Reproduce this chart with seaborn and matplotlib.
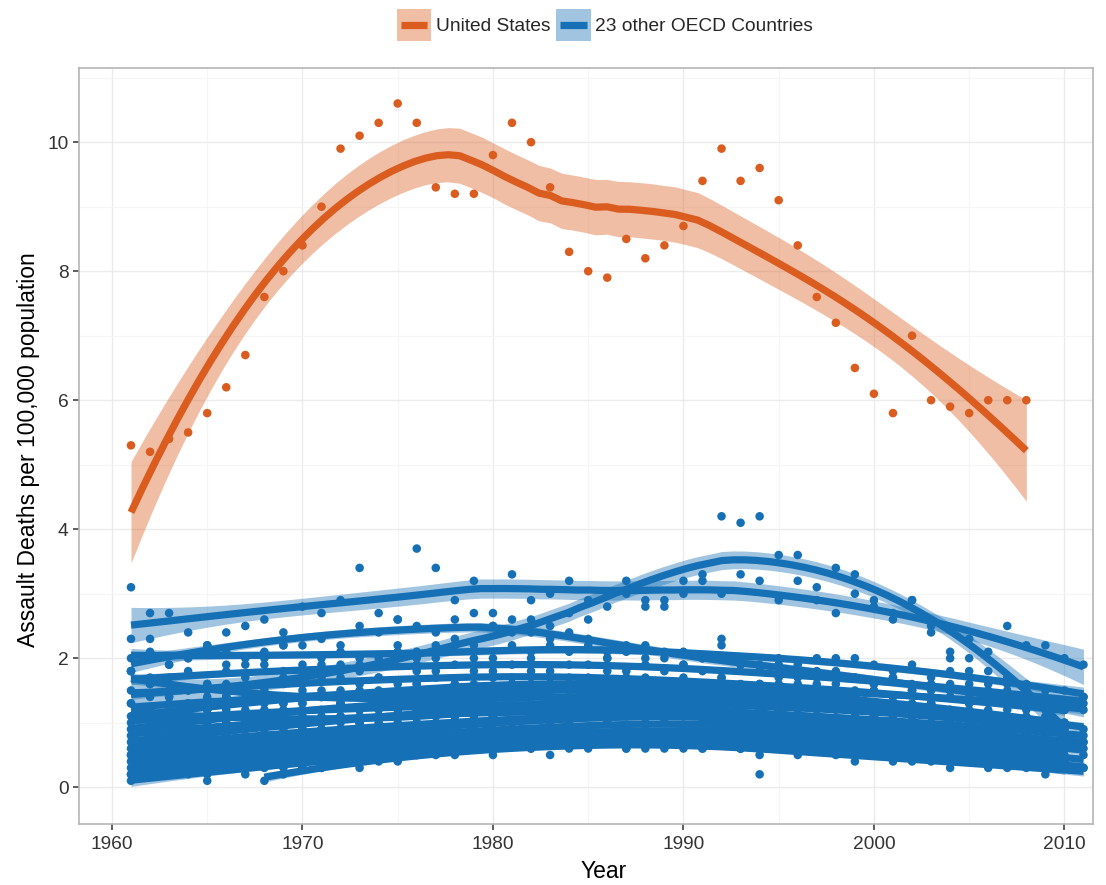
import numpy as np
import pandas as pd
import matplotlib
matplotlib.use("Agg")
import matplotlib.pyplot as plt
import seaborn as sns
from matplotlib.patches import Patch, Rectangle
from matplotlib.lines import Line2D
from matplotlib.legend_handler import HandlerBase

# ---------------- data ----------------
us_start = 1961
us_rates = [5.3, 5.2, 5.4, 5.5, 5.8, 6.2, 6.7, 7.6, 8.0, 8.4,
            9.0, 9.9, 10.1, 10.3, 10.6, 10.3, 9.3, 9.2, 9.2, 9.8,
            10.3, 10.0, 9.3, 8.3, 8.0, 7.9, 8.5, 8.2, 8.4, 8.7,
            9.4, 9.9, 9.4, 9.6, 9.1, 8.4, 7.6, 7.2, 6.5, 6.1,
            5.8, 7.0, 6.0, 5.9, 5.8, 6.0, 6.0, 6.0]

c01 = [3.1, 2.7, 2.7, 2.4, 2.2, 2.4, 2.5, 2.6, 2.4, 2.8,
       2.7, 2.9, 3.4, 2.7, 2.6, 3.7, 3.4, 2.9, 3.2, 2.7,
       3.3, 2.9, 3.0, 3.2, 2.9, 3.0, 3.2, 2.8, 2.8, 3.0,
       3.2, 3.0, 3.3, 3.2, 2.9, 3.2, 2.9, 2.7, 3.0, 2.9,
       2.6, 2.9, 2.4, 2.0, 2.3, 2.1, 2.5, 2.2, 2.2, 2.0, 1.9]
c02 = [1.8, 1.6, 1.4, 1.3, 1.5, 1.4, 1.3, 1.6, 1.6, 1.8,
       1.7, 1.9, 1.8, 2.0, 2.1, 2.0, 2.2, 2.3, 2.2, 2.5,
       2.4, 2.6, 2.5, 2.7, 2.6, 2.8, 3.0, 2.9, 2.9, 3.2,
       3.3, 4.2, 4.1, 4.2, 3.6, 3.6, 3.1, 3.4, 3.3, 2.8,
       2.7, 2.9, 2.5, 2.1, 2.0, 1.8, 1.6, 1.5, 1.4, 1.3]
c03 = [2.3, 2.1, 1.9, 2.0, 2.2, 1.9, 2.0, 2.1, 2.2, 2.2,
       2.3, 2.2, 2.5, 2.4, 2.6, 2.5, 2.4, 2.6, 2.7, 2.5,
       2.6, 2.4, 2.3, 2.4, 2.2, 2.1, 2.2, 2.0, 2.1, 1.9,
       2.0, 2.2, 1.9, 1.8, 1.9, 1.7, 1.8, 2.0, 1.7, 1.6,
       1.7, 1.6, 1.5, 1.6, 1.4, 1.5, 1.4, 1.3, 1.4, 1.2, 1.2]
c04 = [2.0, 2.3, 1.9, 2.0, 2.1, 2.1, 1.9, 2.0, 2.2, 1.9,
       2.0, 2.1, 2.0, 1.9, 2.2, 2.1, 2.0, 2.2, 2.1, 2.0,
       2.2, 2.1, 2.2, 2.1, 2.3, 2.0, 2.1, 2.2, 2.0, 2.1,
       2.0, 2.3, 2.0, 1.9, 2.0, 1.9, 2.0, 1.8, 2.0, 1.9,
       1.8, 1.9, 1.7, 1.8, 1.8, 1.6, 1.7, 1.6, 1.5, 1.5, 1.4]
c05 = [1.8, 1.6, 1.7, 1.8, 1.6, 1.8, 1.7, 1.9, 1.8, 1.7,
       1.9, 1.8, 1.9, 1.7, 2.0, 1.9, 1.8, 1.9, 2.0, 1.8,
       1.9, 2.0, 1.8, 1.9, 1.9, 2.0, 1.8, 1.9, 1.8, 1.9,
       1.8, 1.7, 1.9, 1.8, 1.7, 1.8, 1.7, 1.6, 1.7, 1.6,
       1.7, 1.5, 1.6, 1.5, 1.6, 1.4, 1.5, 1.4, 1.4, 1.3, 1.4]
c06 = [1.5, 1.4, 1.6, 1.5, 1.4, 1.6, 1.5, 1.5, 1.7, 1.6,
       1.5, 1.7, 1.6, 1.7, 1.6, 1.8, 1.7, 1.6, 1.8, 1.7,
       1.7, 1.8, 1.6, 1.7, 1.7, 1.8, 1.6, 1.7, 1.6, 1.7,
       1.6, 1.7, 1.5, 1.6, 1.6, 1.5, 1.6, 1.4, 1.5, 1.5,
       1.4, 1.5, 1.3, 1.4, 1.3, 1.4, 1.2, 1.3, 1.2, 1.2]
c07 = [1.3, 1.2, 1.4, 1.3, 1.2, 1.4, 1.3, 1.4, 1.3, 1.5,
       1.4, 1.3, 1.5, 1.4, 1.5, 1.6, 1.4, 1.5, 1.6, 1.5,
       1.4, 1.6, 1.5, 1.5, 1.4, 1.6, 1.5, 1.4, 1.5, 1.4,
       1.5, 1.4, 1.3, 1.5, 1.4, 1.3, 1.4, 1.3, 1.2, 1.3,
       1.2, 1.3, 1.2, 1.1, 1.2, 1.1, 1.0, 1.1, 1.0, 1.0, 0.9]
c08 = [1.1, 1.2, 1.3, 1.1, 1.2, 1.3, 1.2, 1.4, 1.3, 1.3,
       1.4, 1.5, 1.4, 1.5, 1.4, 1.6, 1.5, 1.6, 1.5, 1.7,
       1.6, 1.5, 1.7, 1.6, 1.5, 1.6, 1.7, 1.5, 1.6, 1.5,
       1.6, 1.4, 1.5, 1.6, 1.4, 1.5, 1.4, 1.3, 1.4, 1.3,
       1.3, 1.2, 1.3, 1.2, 1.1, 1.2, 1.1, 1.0, 1.1, 1.0]
c09 = [1.0, 1.1, 1.2, 1.0, 1.1, 1.2, 1.1, 1.0, 1.2, 1.1,
       1.2, 1.3, 1.2, 1.1, 1.3, 1.2, 1.3, 1.2, 1.4, 1.3,
       1.2, 1.3, 1.4, 1.2, 1.3, 1.2, 1.3, 1.2, 1.1, 1.3,
       1.2, 1.1, 1.2, 1.1, 1.2, 1.0, 1.1, 1.2, 1.0, 1.1,
       1.0, 1.1, 0.9, 1.0, 0.9, 1.0, 0.8, 0.9, 0.9, 0.8, 0.8]
c10 = [0.9, 1.0, 1.1, 1.0, 0.9, 1.1, 1.0, 1.2, 1.1, 1.2,
       1.1, 1.3, 1.2, 1.3, 1.2, 1.4, 1.3, 1.4, 1.3, 1.5,
       1.4, 1.3, 1.5, 1.4, 1.3, 1.4, 1.5, 1.3, 1.4, 1.3,
       1.4, 1.2, 1.3, 1.4, 1.2, 1.3, 1.2, 1.3, 1.1, 1.2,
       1.1, 1.2, 1.1, 1.0, 1.1, 1.0, 1.1, 0.9, 1.0, 0.9]
c11 = [0.8, 0.9, 1.0, 0.8, 0.9, 1.0, 0.9, 1.0, 1.1, 0.9,
       1.0, 1.1, 1.0, 1.2, 1.1, 1.0, 1.2, 1.1, 1.2, 1.1,
       1.2, 1.1, 1.3, 1.2, 1.1, 1.2, 1.1, 1.2, 1.0, 1.1,
       1.2, 1.0, 1.1, 1.0, 1.1, 1.0, 0.9, 1.0, 0.9, 1.0,
       0.9, 0.8, 0.9, 0.8, 0.9, 0.8, 0.7, 0.8, 0.8, 0.7, 0.7]
c12 = [0.7, 0.8, 0.9, 0.7, 0.8, 0.9, 0.8, 0.9, 1.0, 0.9,
       1.0, 1.1, 1.0, 1.1, 1.2, 1.1, 1.2, 1.1, 1.3, 1.2,
       1.3, 1.2, 1.4, 1.3, 1.2, 1.4, 1.3, 1.5, 1.4, 1.3,
       1.5, 1.4, 1.3, 1.5, 1.4, 1.3, 1.4, 1.3, 1.2, 1.3,
       1.2, 1.1, 1.2, 1.1, 1.0, 1.1, 1.0, 0.9, 1.0, 0.9]
c13 = [0.6, 0.7, 0.8, 0.6, 0.7, 0.8, 0.7, 0.8, 0.9, 0.8,
       0.9, 0.8, 1.0, 0.9, 1.0, 0.9, 1.1, 1.0, 0.9, 1.1,
       1.0, 1.1, 1.0, 1.2, 1.1, 1.0, 1.2, 1.1, 1.0, 1.1,
       1.2, 1.1, 1.0, 1.1, 1.0, 1.1, 1.0, 0.9, 1.0, 0.9,
       1.0, 0.9, 0.8, 0.9, 0.8, 0.9, 0.8, 0.7, 0.8, 0.7, 0.7]
c14 = [0.5, 0.6, 0.7, 0.6, 0.5, 0.7, 0.6, 0.7, 0.8, 0.7,
       0.8, 0.7, 0.9, 0.8, 0.9, 1.0, 0.9, 1.0, 0.9, 1.1,
       1.0, 1.1, 1.0, 0.9, 1.1, 1.0, 1.2, 1.1, 1.0, 1.2,
       1.1, 1.0, 1.1, 1.2, 1.0, 1.1, 1.0, 0.9, 1.0, 0.9,
       0.8, 0.9, 0.8, 0.9, 0.7, 0.8, 0.7, 0.8, 0.7, 0.6]
c15 = [0.4, 0.5, 0.6, 0.5, 0.4, 0.6, 0.5, 0.6, 0.7, 0.6,
       0.7, 0.8, 0.7, 0.8, 0.9, 0.8, 0.7, 0.9, 0.8, 0.9,
       1.0, 0.9, 0.8, 1.0, 0.9, 1.0, 0.9, 1.1, 1.0, 0.9,
       1.0, 1.1, 0.9, 1.0, 0.9, 1.0, 0.8, 0.9, 0.8, 0.9,
       0.8, 0.7, 0.8, 0.7, 0.8, 0.7, 0.6, 0.7, 0.6, 0.7, 0.6]
c16 = [0.5, 0.4, 0.5, 0.6, 0.5, 0.4, 0.6, 0.5, 0.6, 0.7,
       0.6, 0.7, 0.6, 0.8, 0.7, 0.8, 0.7, 0.9, 0.8, 0.7,
       0.8, 0.9, 0.8, 0.7, 0.9, 0.8, 0.9, 1.0, 0.8, 0.9,
       0.8, 0.9, 1.0, 0.8, 0.9, 0.8, 0.9, 0.7, 0.8, 0.7,
       0.8, 0.7, 0.6, 0.7, 0.6, 0.7, 0.6, 0.5, 0.6, 0.5]
c17 = [0.3, 0.4, 0.5, 0.4, 0.3, 0.5, 0.4, 0.5, 0.6, 0.5,
       0.6, 0.5, 0.7, 0.6, 0.7, 0.6, 0.8, 0.7, 0.8, 0.7,
       0.8, 0.9, 0.7, 0.8, 0.9, 0.8, 0.7, 0.9, 0.8, 0.9,
       0.8, 0.9, 0.8, 0.7, 0.8, 0.9, 0.7, 0.8, 0.7, 0.6,
       0.7, 0.6, 0.7, 0.6, 0.5, 0.6, 0.5, 0.6, 0.5, 0.4, 0.5]
c18 = [0.2, 0.3, 0.4, 0.3, 0.2, 0.4, 0.3, 0.4, 0.3, 0.5,
       0.4, 0.5, 0.6, 0.5, 0.6, 0.5, 0.7, 0.6, 0.7, 0.6,
       0.7, 0.8, 0.7, 0.6, 0.8, 0.7, 0.8, 0.7, 0.8, 0.7,
       0.8, 0.9, 0.7, 0.8, 0.7, 0.8, 0.7, 0.6, 0.7, 0.6,
       0.7, 0.6, 0.5, 0.6, 0.5, 0.6, 0.5, 0.4, 0.5, 0.4]
c19 = [0.2, 0.3, 0.2, 0.4, 0.3, 0.4, 0.3, 0.5, 0.4, 0.5,
       0.6, 0.5, 0.6, 0.7, 0.6, 0.7, 0.8, 0.7, 0.8, 0.7,
       0.8, 0.7, 0.8, 0.7, 0.8, 0.7, 0.6, 0.8, 0.7, 0.6,
       0.7, 0.8, 0.6, 0.7, 0.6, 0.7, 0.6, 0.7, 0.5, 0.6,
       0.5, 0.6, 0.5, 0.4, 0.5, 0.4, 0.5, 0.4, 0.3, 0.4, 0.3]
c20 = [0.1, 0.2, 0.3, 0.2, 0.1, 0.3, 0.2, 0.3, 0.4, 0.3,
       0.3, 0.4, 0.5, 0.4, 0.5, 0.6, 0.5, 0.6, 0.7, 0.6,
       0.7, 0.6, 0.7, 0.8, 0.7, 0.8, 0.7, 0.6, 0.8, 0.7,
       0.6, 0.7, 0.6, 0.2, 0.7, 0.6, 0.7, 0.6, 0.5, 0.6,
       0.5, 0.4, 0.5, 0.4, 0.5, 0.4, 0.3, 0.4, 0.3, 0.3]
c21 = [0.1, 0.2, 0.3, 0.3, 0.4, 0.3, 0.5, 0.4, 0.5, 0.6,
       0.5, 0.6, 0.5, 0.7, 0.6, 0.5, 0.7, 0.6, 0.7, 0.6,
       0.7, 0.6, 0.8, 0.6, 0.7, 0.6, 0.5, 0.6, 0.5, 0.6,
       0.5, 0.4, 0.5, 0.4, 0.5, 0.4, 0.3, 0.4, 0.3, 0.4,
       0.3, 0.2, 0.3, 0.3]
c22 = [1.8, 1.7, 1.6, 1.5, 1.6, 1.4, 1.5, 1.3, 1.4, 1.3,
       1.4, 1.3, 1.2, 1.4, 1.3, 1.5, 1.4, 1.3, 1.5, 1.4,
       1.5, 1.6, 1.4, 1.5, 1.6, 1.5, 1.7, 1.5, 1.6, 1.5,
       1.6, 1.5, 1.6, 1.4, 1.5, 1.6, 1.4, 1.5, 1.4, 1.5,
       1.4, 1.5, 1.3, 1.4, 1.3, 1.4, 1.3, 1.2, 1.3, 1.2, 1.3]
c23 = [1.3, 1.2, 1.1, 1.2, 1.0, 1.1, 1.0, 0.9, 1.1, 1.0,
       0.9, 1.0, 1.1, 1.0, 1.1, 1.2, 1.1, 1.2, 1.1, 1.3,
       1.2, 1.1, 1.3, 1.2, 1.3, 1.2, 1.4, 1.3, 1.2, 1.3,
       1.4, 1.2, 1.3, 1.2, 1.3, 1.2, 1.1, 1.3, 1.2, 1.1,
       1.2, 1.1, 1.0, 1.1, 1.0, 1.1, 0.9, 1.0, 0.9, 1.0]

other_series = [c01, c02, c03, c04, c05, c06, c07, c08, c09, c10, c11, c12,
                c13, c14, c15, c16, c17, c18, c19, c20, c21, c22, c23]
other_starts = [1961] * 20 + [1968, 1961, 1961]

legend_labels = ["United States", "23 other OECD Countries"]
x_ticks = [1960, 1970, 1980, 1990, 2000, 2010]
y_ticks = [0, 2, 4, 6, 8, 10]

# ---------------- build long table ----------------
rows = []
for r_i, v in enumerate(us_rates):
    rows.append(("United States", "us", us_start + r_i, v))
for k, (series, st) in enumerate(zip(other_series, other_starts)):
    for r_i, v in enumerate(series):
        rows.append(("other", f"c{k+1:02d}", st + r_i, v))
df = pd.DataFrame(rows, columns=["group", "country", "year", "rate"])

US_COL = "#DA5C1F"
OT_COL = "#1570B5"


def loess(x, y, span=0.75, n_out=80):
    x = np.asarray(x, float)
    y = np.asarray(y, float)
    n = len(x)
    q = int(np.floor(span * n))

    def lvec(x0):
        d = np.abs(x - x0)
        h = np.sort(d)[q - 1] * 1.0001
        u = d / h
        w = np.where(u < 1, (1 - u ** 3) ** 3, 0.0)
        X = np.column_stack([np.ones(n), x - x0, (x - x0) ** 2])
        XtW = X.T * w
        return np.linalg.solve(XtW @ X, XtW)[0]

    L = np.array([lvec(v) for v in x])
    res = y - L @ y
    M = (np.eye(n) - L).T @ (np.eye(n) - L)
    d1 = np.trace(M)
    sigma = np.sqrt(np.sum(res ** 2) / d1)
    xs = np.linspace(x.min(), x.max(), n_out)
    Ls = np.array([lvec(v) for v in xs])
    fit = Ls @ y
    se = sigma * np.sqrt((Ls ** 2).sum(axis=1))
    t = 2.02
    return xs, fit, fit - t * se, fit + t * se


class KeyHandler(HandlerBase):
    def __init__(self, color):
        super().__init__()
        self.color = color

    def create_artists(self, legend, orig_handle, xdescent, ydescent,
                       width, height, fontsize, trans):
        x0, y0 = -xdescent, -ydescent
        rect = Rectangle((x0, y0), width, height, facecolor=self.color,
                         alpha=0.4, edgecolor="none", transform=trans)
        line = Line2D([x0 + 0.12 * width, x0 + 0.88 * width],
                      [y0 + height / 2, y0 + height / 2],
                      color=self.color, lw=5.2, solid_capstyle="butt",
                      transform=trans)
        return [rect, line]


# ---------------- figure ----------------
sns.set_theme(style="white")
plt.rcParams["font.family"] = ["Liberation Sans", "DejaVu Sans"]

W, H = 1106, 885
fig = plt.figure(figsize=(W / 100, H / 100), dpi=100)
ax = fig.add_axes([79 / W, 1 - 824 / H, (1093 - 79) / W, (824 - 68) / H])

sns.scatterplot(data=df, x="year", y="rate", hue="group",
                palette={"United States": US_COL, "other": OT_COL},
                s=38, linewidth=0, legend=False, ax=ax, zorder=2)

SPAN = 0.75
order = [f"c{k+1:02d}" for k in range(len(other_series))] + ["us"]
for c in order:
    sub = df[df.country == c].sort_values("year")
    col = US_COL if c == "us" else OT_COL
    xs, fit, lo, hi = loess(sub.year.values, sub.rate.values, span=SPAN)
    ax.fill_between(xs, lo, hi, color=col, alpha=0.4, linewidth=0, zorder=3)
    ax.plot(xs, fit, color=col, lw=5.2, solid_capstyle="butt", zorder=3)

ax.set_xlim(1958.27, 2011.5)
ax.set_ylim(-0.57, 11.15)
ax.set_xticks(x_ticks)
ax.set_yticks(y_ticks)
ax.set_xticks([1965, 1975, 1985, 1995, 2005], minor=True)
ax.set_yticks([1, 3, 5, 7, 9, 11], minor=True)
ax.grid(which="major", color="#EBEBEB", lw=1.0)
ax.grid(which="minor", color="#F5F5F5", lw=0.8)
ax.set_axisbelow(True)
for s in ax.spines.values():
    s.set_color("#B5B5B5")
    s.set_linewidth(1.2)
ax.tick_params(axis="both", which="major", length=4.5, width=1.1,
               color="#333333", labelsize=13.8, labelcolor="#333333",
               bottom=True, left=True, direction="out")
ax.tick_params(axis="x", pad=4)
ax.tick_params(axis="y", pad=3)
ax.tick_params(which="minor", length=0)

ax.set_xlabel("Year", fontsize=16.5, color="black")
ax.set_ylabel("Assault Deaths per 100,000 population", fontsize=16.5, color="black")
ax.xaxis.set_label_coords(0.517, -0.047)
ax.yaxis.set_label_coords(-0.038, 0.495)

# legend
h_us = Patch(facecolor=US_COL)
h_ot = Patch(facecolor=OT_COL)
fig.legend([h_us, h_ot], legend_labels,
           handler_map={h_us: KeyHandler(US_COL), h_ot: KeyHandler(OT_COL)},
           loc="center", bbox_to_anchor=(605 / W, 1 - 25 / H), ncol=2,
           frameon=False, fontsize=13.8, handlelength=1.8, handleheight=2.2,
           handletextpad=0.25, columnspacing=0.3, borderpad=0)

fig.savefig("out.png", dpi=100, facecolor="white")
